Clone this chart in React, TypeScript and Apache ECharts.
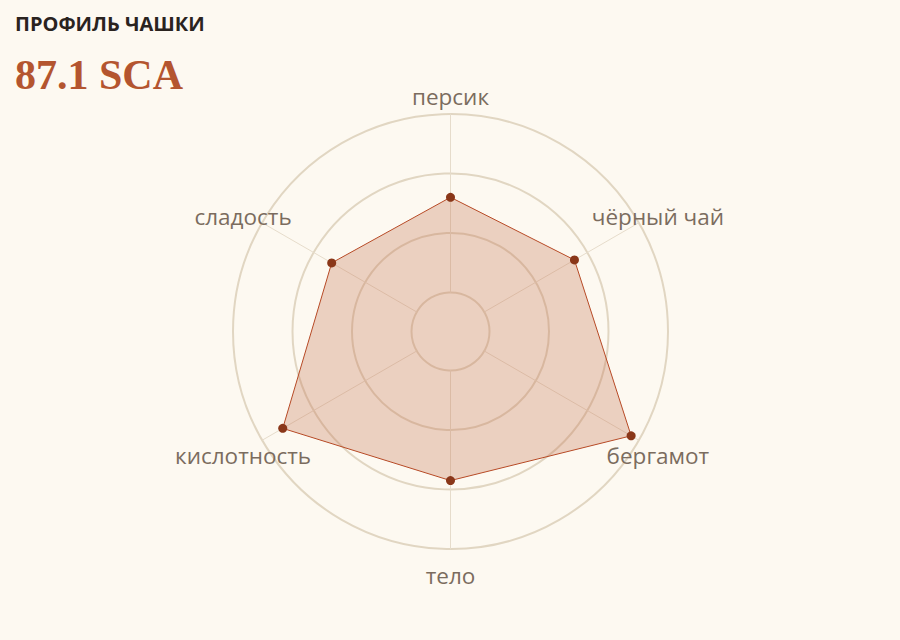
import { useEffect, useRef } from "react";
import * as echarts from "echarts";

// Cup profile radar — attribute scores on the 7–10 band
const ATTRIBUTES = ["персик", "сладость", "кислотность", "тело", "бергамот", "чёрный чай"];
const SCORES = [8.6, 8.65, 9.6, 8.85, 9.85, 8.75];
const SCALE_MIN = 7;
const SCALE_MAX = 10;
const SPLITS = 3;

const TITLE = "ПРОФИЛЬ ЧАШКИ";
const TOTAL = "87.1 SCA";

const BG = "#fdf9f1";
const RUST = "#b4552f";
const LABEL = "#7b6c5e";
const RING = "#e1d6c2";

export default function App() {
  const chartRef = useRef<HTMLDivElement>(null);

  useEffect(() => {
    if (!chartRef.current) return;
    const chart = echarts.init(chartRef.current, undefined, { renderer: "svg" });

    const option: echarts.EChartsOption = {
      animation: false,
      backgroundColor: BG,
      title: [
        {
          text: TITLE,
          left: 10,
          top: 8,
          textStyle: {
            fontFamily: "Open Sans",
            fontWeight: "bold",
            fontSize: 20,
            color: "#2a231f",
          },
        },
        {
          text: TOTAL,
          left: 10,
          top: 49,
          textStyle: {
            fontFamily: "Liberation Serif",
            fontWeight: "bold",
            fontSize: 42,
            color: RUST,
          },
        },
      ],
      radar: {
        center: [450.5, 331.5],
        radius: [39, 217.5],
        startAngle: 90,
        shape: "circle",
        splitNumber: SPLITS,
        indicator: ATTRIBUTES.map((name) => ({ name, min: SCALE_MIN, max: SCALE_MAX })),
        nameGap: 22,
        axisName: {
          color: LABEL,
          fontFamily: "Open Sans",
          fontSize: 22.5,
          align: "center",
          verticalAlign: "top",
          lineHeight: 9,
        },
        splitLine: { lineStyle: { color: RING, width: 2 } },
        splitArea: { show: false },
        axisLine: { lineStyle: { color: "#e6dccb", width: 1 } },
        axisTick: { show: false },
        axisLabel: { show: false },
      },
      series: [
        {
          type: "radar",
          symbol: "circle",
          symbolSize: 9,
          itemStyle: { color: "#8a3719" },
          lineStyle: { color: "#b5441f", width: 1 },
          areaStyle: { color: "rgb(196,112,81)", opacity: 0.3 },
          data: [{ value: SCORES, name: "Профиль" }],
        },
      ],
    };

    chart.setOption(option);
    return () => chart.dispose();
  }, []);

  return (
    <div
      ref={chartRef}
      style={{ position: "fixed", left: 0, top: 0, width: 900, height: 640, background: BG }}
    />
  );
}
